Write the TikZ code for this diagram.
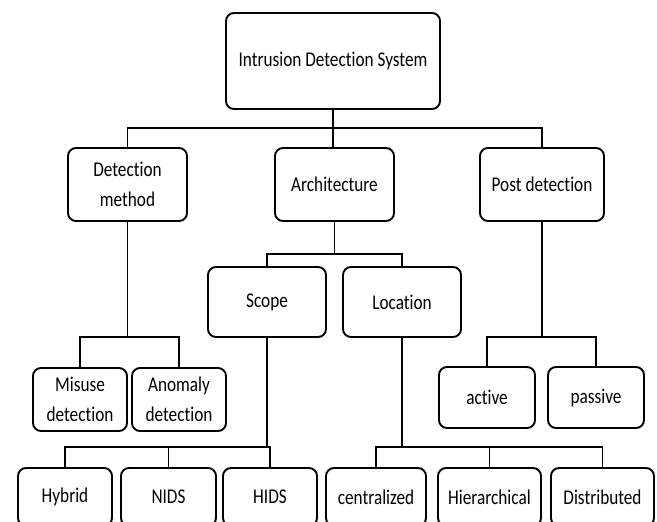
\documentclass[tikz,border=0pt]{standalone}
\usepackage{fontspec}
\setmainfont{Carlito}[FakeStretch=0.82,Ligatures=CommonOff]
\usetikzlibrary{positioning}

\begin{document}
\begin{tikzpicture}[x=1pt,y=-1pt,line width=1.9pt,
                    box/.style={draw,rounded corners=8pt,inner sep=2pt,
                                align=center,font=\fontsize{21}{30}\selectfont}]
  \clip (0,0) rectangle (657,522);
  \fill[white] (0,0) rectangle (657,522);

  % bus levels
  \coordinate (topbus)   at (0,128);
  \coordinate (archbus)  at (0,254);
  \coordinate (detbus)   at (0,337);
  \coordinate (scopebus) at (0,447);

  \node[box,minimum width=214pt,minimum height=96pt] (ids)  at (333,61)    {Intrusion Detection System};

  \node[box,minimum width=119pt,minimum height=73pt] (det)  at (127.5,184.5) {Detection\\method};
  \node[box,minimum width=119pt,minimum height=73pt] (arch) at (334.5,184.5) {Architecture};
  \node[box,minimum width=124pt,minimum height=73pt] (post) at (542,184.5)   {Post detection};

  \node[box,minimum width=118pt,minimum height=70pt] (scope) at (267,302) {Scope};
  \node[box,minimum width=118pt,minimum height=70pt] (loc)   at (402,302) {Location};

  \node[box,minimum width=94pt,minimum height=63pt] (misuse)  at (80,399.5)  {Misuse\\detection};
  \node[box,minimum width=94pt,minimum height=63pt] (anomaly) at (179,399.5) {Anomaly\\detection};
  \node[box,minimum width=96pt,minimum height=61pt] (active)  at (487,397.5) {active};
  \node[box,minimum width=96pt,minimum height=61pt] (passive) at (596,397.5) {passive};

  \node[box,minimum width=94pt,minimum height=58pt]  (hybrid) at (65,497)    {Hybrid};
  \node[box,minimum width=95pt,minimum height=58pt]  (nids)   at (168.5,497) {NIDS};
  \node[box,minimum width=94pt,minimum height=58pt]  (hids)   at (270,497)   {HIDS};
  \node[box,minimum width=100pt,minimum height=58pt] (cent)   at (376,497)   {centralized};
  \node[box,minimum width=103pt,minimum height=58pt] (hier)   at (489.5,497) {Hierarchical};
  \node[box,minimum width=103pt,minimum height=58pt] (dist)   at (602.5,497) {Distributed};

  % connectors
  \draw (ids.south) -- (ids.south |- arch.north);
  \draw (det.north) |- (topbus -| post.north) -- (post.north);

  \draw (arch.south) -- (arch.south |- archbus);
  \draw (scope.north) |- (archbus -| loc.north) -- (loc.north);

  \draw (det.south) -- (det.south |- detbus);
  \draw (misuse.north) |- (detbus -| anomaly.north) -- (anomaly.north);
  \draw (post.south) -- (post.south |- detbus);
  \draw (active.north) |- (detbus -| passive.north) -- (passive.north);

  \draw (scope.south) -- (scope.south |- scopebus);
  \draw (hybrid.north) |- (scopebus -| hids.north) -- (hids.north);
  \draw (nids.north) -- (nids.north |- scopebus);
  \draw (loc.south) -- (loc.south |- scopebus);
  \draw (cent.north) |- (scopebus -| dist.north) -- (dist.north);
  \draw (hier.north) -- (hier.north |- scopebus);
\end{tikzpicture}
\end{document}
